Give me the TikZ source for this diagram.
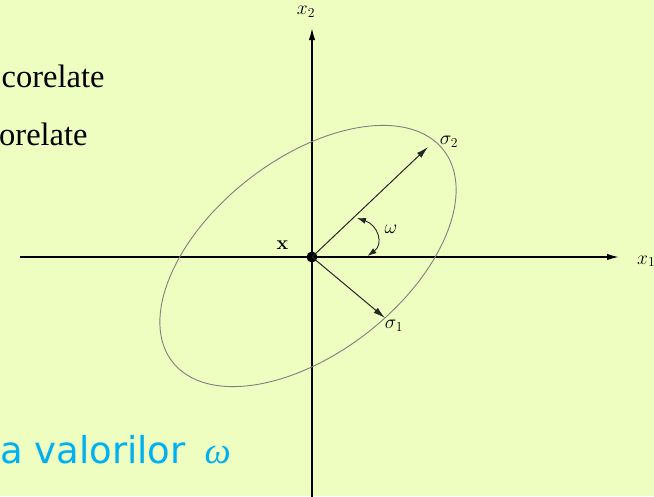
\documentclass[tikz,border=0pt]{standalone}
\usepackage{fix-cm}
\usepackage[no-math]{fontspec}
\setmainfont{Liberation Serif}
\newfontfamily\vsans{DejaVu Sans}
\usetikzlibrary{arrows.meta}
\definecolor{bgc}{RGB}{238,253,192}
\definecolor{cyantext}{RGB}{0,176,240}
\begin{document}
\begin{tikzpicture}[x=1pt,y=-1pt,
  axis/.style={line width=1.6pt, -{Latex[length=12pt,width=6.5pt]}},
  vec/.style={line width=1pt, black!85, -{Latex[length=12pt,width=6.5pt]}},
  warc/.style={line width=0.9pt, black!85, {Latex[length=9pt,width=6pt]}-{Latex[length=9pt,width=6pt]}},
  ell/.style={line width=0.9pt, black!50},
  lbl/.style={inner sep=0pt, font=\fontsize{19.5}{22}\selectfont},
  bigtext/.style={anchor=base west, inner sep=0pt, font=\fontsize{32.5}{38}\selectfont}]
\path[fill=bgc, use as bounding box] (0,0) rectangle (654,496);
\clip (0,0) rectangle (654,496);
% text
\node[bigtext] (t1) at (1.5,87) {corelate};
\node[bigtext] (t2) at (-1,145) {orelate};
\node[anchor=base west, inner sep=0pt, text=cyantext, font=\fontsize{37}{44}\selectfont] (t3) at (0,463) {{\vsans a valorilor}\hspace{19pt}\textit{ω}};
% axes
\coordinate (xl) at (20,257);
\coordinate (xr) at (619,257);
\coordinate (yb) at (312,500);
\coordinate (yt) at (312,28);
\draw[axis] (xl) -- (xr);
\draw[axis] (yb) -- (yt);
\node[lbl, anchor=base west] (x1) at (637,264) {$x_1$};
\node[lbl] (x2) at (306,12) {$x_2$};
% ellipse
\coordinate (ec) at (308,256);
\draw[ell, rotate around={38:(ec)}] (ec) ellipse [x radius=172pt, y radius=97pt];
% vectors
\coordinate (s2tip) at (428,147);
\coordinate (s1tip) at (385,318);
\node[circle, fill=black, inner sep=0pt, minimum size=11pt] (o) at (312,257) {};
\draw[vec] (o.center) -- (s2tip);
\draw[vec] (o.center) -- (s1tip);
\node[lbl] (s2) at (449,142) {$\sigma_2$};
\node[lbl] (s1) at (394,326) {$\sigma_1$};
\node[lbl] (xlab) at (282.5,245) {$\mathbf{x}$};
% angle
\coordinate (wa) at (357,218);
\coordinate (wb) at (367.5,256);
\draw[warc] (wa) .. controls (378,225) and (384,244) .. (wb);
\node[lbl] (w) at (391,229) {$\omega$};
\end{tikzpicture}
\end{document}
